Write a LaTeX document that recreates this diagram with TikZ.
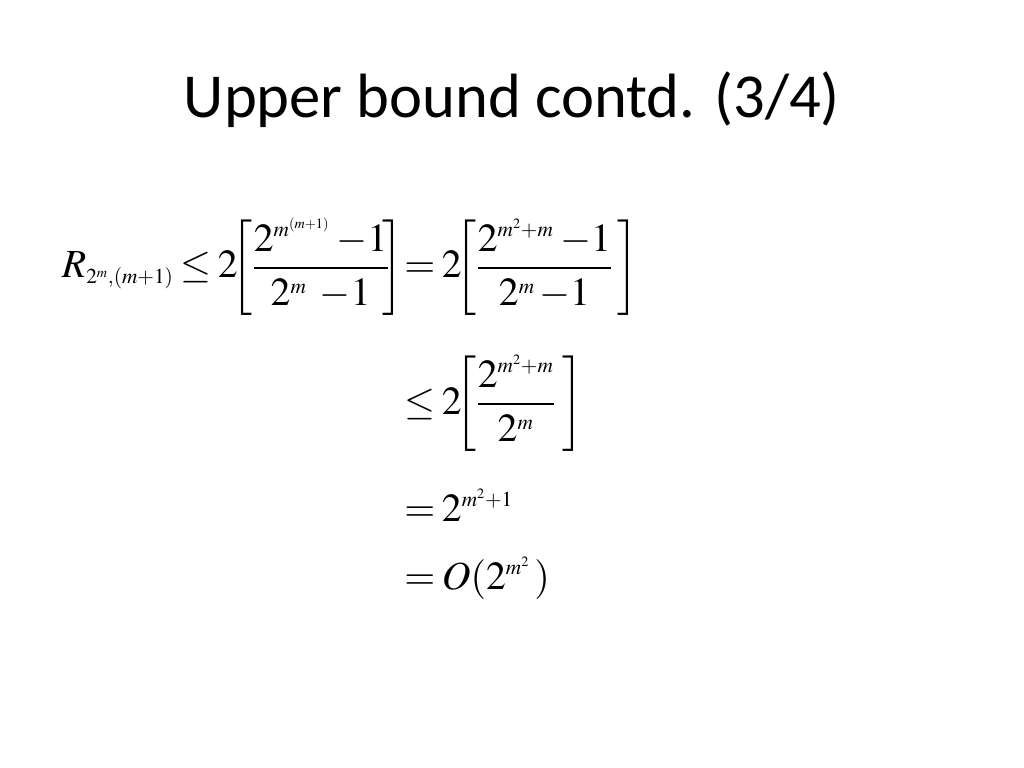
\documentclass[tikz,border=0pt]{standalone}
\usepackage{amsmath}
\usepackage{mathptmx}
\usepackage{fontspec}
\newfontfamily\titlefont{Carlito}
\DeclareMathSizes{28}{28}{15}{10}
\thickmuskip=3mu\relax
\usetikzlibrary{positioning}
\tikzset{
  eqn/.style={inner sep=0pt, anchor=base west, font=\fontsize{28}{34}\selectfont},
  heading/.style={inner sep=0pt, font=\titlefont\fontsize{44}{52}\selectfont}
}
\newcommand{\mns}{\mathord{-}1}
\newcommand{\tallfrac}{\rule[-29pt]{0pt}{72pt}}
\begin{document}
\begin{tikzpicture}[x=0.703125pt, y=-0.703125pt]
\useasboundingbox (0,0) rectangle (1024,768);
\node[heading] (title) at (512,100) {Upper bound contd. (3/4)};
% first line
\node[eqn, anchor=base east] (lhs) at (174,278) {$R_{2^m,(m+1)}$};
\node[eqn] (line1) at (180,278) {$\leq 2\mkern-3mu{\left[\tallfrac\dfrac{2^{m^{(m+1)}}\;\mns}{2^m\;\;\mns}\mkern-3mu\right]}$};
\node[eqn] (line2) at (404,278) {$= 2\mkern-3mu{\left[\tallfrac\dfrac{2^{m^2+m}\;\mns}{2^m\,\mns}\,\right]}$};
% remaining lines
\node[eqn] (line3) at (404,414) {$\leq 2\mkern-3mu{\left[\tallfrac\dfrac{2^{m^2+m}}{2^m}\;\right]}$};
\node[eqn] (line4) at (404,521) {$= 2^{m^2+1}$};
\node[eqn] (line5) at (404,589) {$= O(2^{m^2}\,)$};
\end{tikzpicture}
\end{document}
